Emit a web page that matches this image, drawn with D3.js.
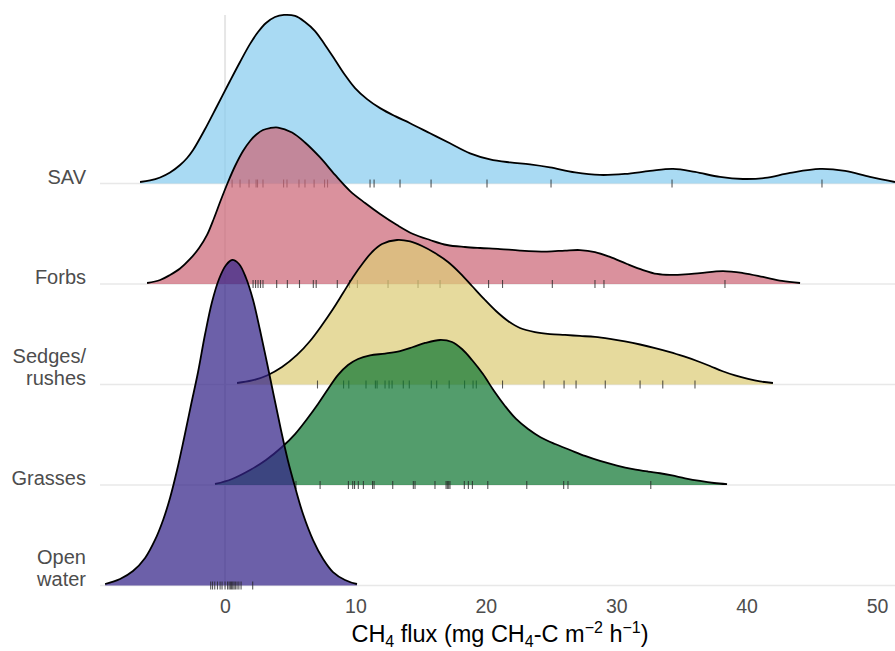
<!DOCTYPE html>
<html>
<head>
<meta charset="utf-8">
<script src="https://cdn.jsdelivr.net/npm/d3@7"></script>
<style>
  html, body { margin: 0; padding: 0; background: #ffffff; }
  svg { display: block; font-family: "Liberation Sans", Arial, Helvetica, sans-serif; }
</style>
</head>
<body>
<svg id="chart" width="895" height="651"></svg>
<script>
// ---------------- data ----------------
const categories = ["SAV", "Forbs", "Sedges/rushes", "Grasses", "Open water"];
const labelLines = [["SAV"], ["Forbs"], ["Sedges/", "rushes"], ["Grasses"], ["Open", "water"]];
const fillColors = ["#88CCEE", "#CC6677", "#DDCC77", "#117733", "#332288"];
const xTicks = [0, 10, 20, 30, 40, 50];

// density profiles (x = CH4 flux, h = ridge height in units of ridge spacing)
const savX = [-6.52, -5.75, -4.98, -4.22, -3.45, -2.91, -2.45, -1.53, -0.61, 0.38, 1.15, 1.92, 2.53, 3.14, 3.83, 4.52, 5.37, 6.13, 6.90, 7.67, 8.44, 9.20, 9.97, 10.89, 11.89, 13.04, 14.19, 15.72, 17.25, 18.79, 20.32, 21.86, 23.39, 24.92, 26.84, 28.76, 30.67, 32.59, 34.36, 36.04, 37.96, 39.72, 41.41, 43.33, 45.63, 47.55, 49.46, 51.38];
const savH = [0.015, 0.030, 0.060, 0.109, 0.184, 0.254, 0.333, 0.542, 0.771, 1.020, 1.209, 1.389, 1.507, 1.597, 1.657, 1.677, 1.667, 1.607, 1.517, 1.378, 1.229, 1.080, 0.950, 0.840, 0.750, 0.670, 0.600, 0.500, 0.400, 0.300, 0.240, 0.210, 0.190, 0.160, 0.110, 0.085, 0.095, 0.125, 0.145, 0.115, 0.065, 0.045, 0.055, 0.105, 0.145, 0.125, 0.065, 0.015];

const forbsX = [-5.98, -4.98, -4.22, -3.45, -2.68, -1.99, -1.38, -0.84, -0.38, 0.23, 0.77, 1.38, 1.92, 2.45, 2.91, 3.45, 4.06, 5.14, 6.13, 7.29, 8.44, 9.59, 10.74, 11.89, 13.19, 14.42, 15.72, 17.02, 18.40, 19.56, 21.09, 22.62, 24.69, 26.07, 27.22, 28.37, 29.52, 30.83, 32.06, 33.13, 34.13, 35.28, 36.43, 38.19, 39.72, 41.26, 42.71, 44.10];
const forbsH = [0.010, 0.040, 0.090, 0.154, 0.249, 0.358, 0.488, 0.657, 0.816, 1.015, 1.174, 1.323, 1.423, 1.493, 1.532, 1.552, 1.557, 1.507, 1.408, 1.259, 1.085, 0.925, 0.806, 0.697, 0.587, 0.498, 0.438, 0.388, 0.368, 0.358, 0.348, 0.333, 0.323, 0.333, 0.338, 0.318, 0.269, 0.199, 0.139, 0.100, 0.090, 0.095, 0.109, 0.129, 0.109, 0.070, 0.030, 0.010];

const sedgesX = [0.92, 2.07, 3.22, 4.37, 5.52, 6.52, 7.44, 8.28, 9.05, 9.82, 10.58, 11.27, 12.04, 13.19, 14.19, 15.11, 16.10, 17.10, 18.02, 18.94, 19.86, 20.78, 21.70, 22.62, 23.77, 24.92, 26.07, 27.22, 28.37, 29.52, 30.67, 31.83, 32.98, 34.13, 35.20, 36.20, 37.19, 38.11, 39.11, 40.11, 41.03, 42.02];
const sedgesH = [0.015, 0.040, 0.090, 0.174, 0.294, 0.433, 0.592, 0.751, 0.910, 1.070, 1.209, 1.318, 1.398, 1.438, 1.423, 1.378, 1.308, 1.219, 1.109, 0.980, 0.851, 0.731, 0.632, 0.562, 0.522, 0.502, 0.493, 0.483, 0.473, 0.453, 0.428, 0.398, 0.363, 0.323, 0.279, 0.234, 0.184, 0.134, 0.090, 0.055, 0.030, 0.015];

const grassesX = [-0.77, 0.54, 1.92, 3.14, 4.37, 5.37, 6.29, 7.13, 7.90, 8.67, 9.43, 10.20, 11.12, 12.27, 13.42, 14.42, 15.34, 16.49, 17.41, 18.17, 18.94, 19.78, 20.63, 21.47, 22.32, 23.24, 24.16, 25.31, 26.46, 27.61, 28.76, 30.06, 31.29, 32.44, 33.36, 34.28, 35.28, 36.43, 37.50, 38.50];
const grassesH = [0.010, 0.060, 0.149, 0.249, 0.378, 0.507, 0.657, 0.806, 0.955, 1.095, 1.194, 1.254, 1.289, 1.308, 1.333, 1.373, 1.413, 1.443, 1.423, 1.353, 1.244, 1.104, 0.935, 0.786, 0.657, 0.557, 0.478, 0.408, 0.348, 0.289, 0.239, 0.194, 0.159, 0.134, 0.117, 0.095, 0.067, 0.040, 0.020, 0.008];

const openX = [-9.20, -8.05, -7.06, -6.13, -5.37, -4.75, -4.22, -3.68, -3.14, -2.61, -2.07, -1.53, -1.00, -0.46, 0.08, 0.54, 1.07, 1.61, 2.15, 2.68, 3.22, 3.76, 4.29, 4.83, 5.37, 5.98, 6.75, 7.52, 8.28, 9.20, 10.12];
const openH = [0.015, 0.065, 0.144, 0.274, 0.453, 0.652, 0.871, 1.149, 1.468, 1.796, 2.124, 2.502, 2.821, 3.050, 3.189, 3.239, 3.199, 3.060, 2.841, 2.542, 2.214, 1.876, 1.547, 1.239, 0.980, 0.711, 0.452, 0.264, 0.134, 0.055, 0.015];

// observations (rug)
const savRug = [0.54, 1.15, 1.84, 2.38, 2.49, 2.91, 4.49, 4.75, 5.67, 6.13, 6.83, 7.63, 7.86, 11.12, 11.43, 13.42, 15.80, 20.09, 25.00, 34.28, 45.78];
const forbsRug = [2.15, 2.34, 2.53, 2.72, 2.91, 3.96, 4.78, 5.71, 6.77, 6.99, 8.61, 9.55, 10.15, 12.50, 14.80, 16.49, 20.21, 21.28, 25.10, 28.37, 29.06, 38.34];
const sedgesRug = [7.09, 9.09, 9.49, 10.81, 11.53, 11.66, 12.27, 12.58, 12.81, 13.67, 14.13, 15.82, 16.23, 17.19, 18.37, 19.02, 19.27, 21.28, 24.46, 26.00, 26.92, 29.16, 31.83, 33.57, 36.04];
const grassesRug = [5.44, 7.29, 9.46, 9.79, 9.93, 10.22, 10.61, 11.31, 11.43, 12.86, 14.44, 14.57, 16.10, 16.95, 17.05, 17.15, 17.25, 18.35, 18.66, 18.97, 20.15, 23.14, 25.97, 26.30, 32.65];
const openRug = [-1.10, -0.96, -0.79, -0.58, -0.38, -0.23, 0, 0.19, 0.31, 0.41, 0.50, 0.59, 0.69, 0.79, 0.92, 1.06, 1.23, 2.12];

const profilesX = [savX, forbsX, sedgesX, grassesX, openX];
const profilesH = [savH, forbsH, sedgesH, grassesH, openH];
const rugs = [savRug, forbsRug, sedgesRug, grassesRug, openRug];

// ---------------- layout ----------------
const panel = { left: 100, right: 895, top: 15, bottom: 590 };
const svg = d3.select("#chart");

const x = d3.scaleLinear().domain([-9.59, 51.38]).range([panel.left, panel.right]);
const y = d3.scalePoint().domain(categories).range([183.5, 585.5]);
const step = y.step();
const hScale = d3.scaleLinear().domain([0, 1]).range([0, step]);

svg.append("defs").append("clipPath").attr("id", "panelClip")
  .append("rect").attr("x", panel.left).attr("y", 0)
  .attr("width", panel.right - panel.left).attr("height", panel.bottom + 5);

// grid
const grid = svg.append("g");
grid.selectAll("line.h").data(categories).join("line")
  .attr("x1", panel.left).attr("x2", panel.right)
  .attr("y1", d => y(d)).attr("y2", d => y(d))
  .attr("stroke", "#e8e8e8").attr("stroke-width", 1.6);
grid.append("line")
  .attr("x1", x(0)).attr("x2", x(0))
  .attr("y1", panel.top).attr("y2", panel.bottom - 3)
  .attr("stroke", "#e6e6e6").attr("stroke-width", 2);

// ridges
const curve = d3.curveCatmullRom.alpha(0.5);
const ridges = svg.append("g").attr("clip-path", "url(#panelClip)");
categories.forEach((cat, i) => {
  const base = y(cat);
  const pts = profilesX[i].map((v, k) => ({ v: v, h: profilesH[i][k] }));
  const area = d3.area()
    .x(d => x(d.v))
    .y0(base)
    .y1(d => base - hScale(d.h))
    .curve(curve);
  const line = d3.line()
    .x(d => x(d.v))
    .y(d => base - hScale(d.h))
    .curve(curve);
  const g = ridges.append("g");
  g.append("path").attr("d", area(pts))
    .attr("fill", fillColors[i]).attr("fill-opacity", 0.72);
  g.selectAll("line.rug").data(rugs[i]).join("line")
    .attr("x1", d => x(d)).attr("x2", d => x(d))
    .attr("y1", base - 4).attr("y2", base + 4)
    .attr("stroke", "#222").attr("stroke-opacity", 0.75).attr("stroke-width", 1.1);
  g.append("path").attr("d", line(pts))
    .attr("fill", "none").attr("stroke", "#000").attr("stroke-width", 1.8)
    .attr("stroke-linejoin", "round");
});

// y labels
const ylab = svg.append("g");
categories.forEach((cat, i) => {
  const lines = labelLines[i];
  const t = ylab.append("text")
    .attr("x", 86).attr("text-anchor", "end")
    .attr("fill", "#4d4d4d").attr("font-size", "20px");
  lines.forEach((ln, k) => {
    t.append("tspan").attr("x", 86)
      .attr("y", y(cat) - (lines.length - 1 - k) * 21.5)
      .text(ln);
  });
});

// x axis
const xAxis = d3.axisBottom(x).tickValues(xTicks).tickSize(0).tickPadding(9).tickFormat(d3.format("d"));
const ax = svg.append("g").attr("transform", `translate(0,${panel.bottom})`).call(xAxis);
ax.select(".domain").remove();
ax.selectAll("text").attr("fill", "#4d4d4d").attr("font-size", "19.5px")
  .attr("font-family", "\"Liberation Sans\", Arial, sans-serif");

// x title
const title = svg.append("text")
  .attr("x", 500).attr("y", 642)
  .attr("text-anchor", "middle").attr("font-size", "23.5px").attr("fill", "#000");
title.append("tspan").text("CH");
title.append("tspan").attr("font-size", "16px").attr("dy", 5).text("4");
title.append("tspan").attr("dy", -5).text(" flux (mg CH");
title.append("tspan").attr("font-size", "16px").attr("dy", 5).text("4");
title.append("tspan").attr("dy", -5).text("-C m");
title.append("tspan").attr("font-size", "16px").attr("dy", -9).text("\u22122");
title.append("tspan").attr("dy", 9).text(" h");
title.append("tspan").attr("font-size", "16px").attr("dy", -9).text("\u22121");
title.append("tspan").attr("dy", 9).text(")");
</script>
</body>
</html>
